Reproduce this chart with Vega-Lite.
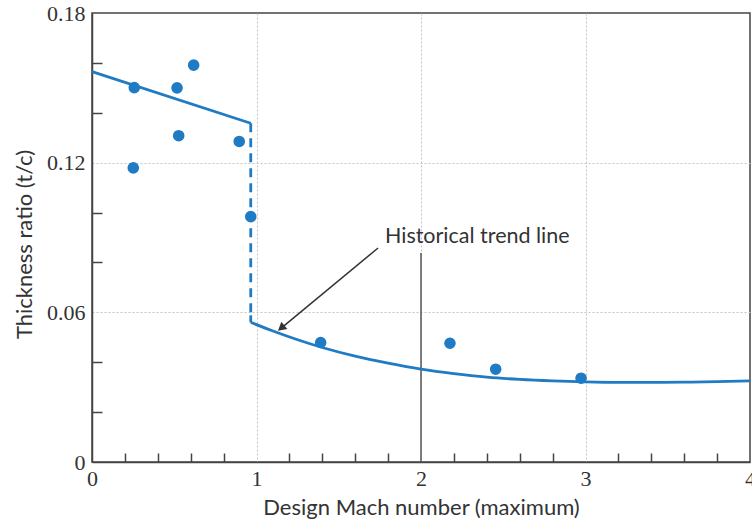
{
  "$schema": "https://vega.github.io/schema/vega-lite/v6.json",
  "width": 658,
  "height": 449,
  "autosize": {"type": "none"},
  "padding": {"left": 92, "top": 13, "right": 2, "bottom": 63},
  "background": "white",
  "config": {
    "view": {"stroke": "#444", "strokeWidth": 1.5},
    "axis": {
      "domainColor": "#444", "domainWidth": 1.5,
      "tickColor": "#444", "tickWidth": 1.5,
      "labelFont": "Liberation Serif", "labelFontSize": 22, "labelColor": "#333",
      "titleFont": "Lato", "titleFontSize": 22, "titleFontWeight": "normal", "titleColor": "#333",
      "gridColor": "#c4c4c4", "gridWidth": 1, "gridDash": [2, 2]
    }
  },
  "datasets": {
    "pts": [
      {"x": 0.257, "y": 0.1501}, {"x": 0.251, "y": 0.1179}, {"x": 0.517, "y": 0.1500},
      {"x": 0.527, "y": 0.1308}, {"x": 0.618, "y": 0.1591}, {"x": 0.895, "y": 0.1285},
      {"x": 0.965, "y": 0.0984}, {"x": 1.390, "y": 0.0479}, {"x": 2.176, "y": 0.0476},
      {"x": 2.454, "y": 0.0372}, {"x": 2.973, "y": 0.0336}
    ],
    "trend1": [{"x": 0, "y": 0.1565}, {"x": 0.965, "y": 0.1358}],
    "dash": [{"x": 0.965, "y": 0.1358}, {"x": 0.965, "y": 0.0585}],
    "stub": [{"x": 0.965, "y": 0.0588}, {"x": 0.965, "y": 0.0560}],
    "trend2": [
      {"x": 0.965, "y": 0.0560}, {"x": 1.1, "y": 0.0525}, {"x": 1.25, "y": 0.0490},
      {"x": 1.4, "y": 0.0459}, {"x": 1.6, "y": 0.0424}, {"x": 1.8, "y": 0.0396},
      {"x": 2.0, "y": 0.0372}, {"x": 2.2, "y": 0.0354}, {"x": 2.4, "y": 0.0340},
      {"x": 2.6, "y": 0.0331}, {"x": 2.8, "y": 0.0325}, {"x": 3.0, "y": 0.0321},
      {"x": 3.2, "y": 0.0319}, {"x": 3.4, "y": 0.0319}, {"x": 3.6, "y": 0.0320},
      {"x": 3.8, "y": 0.0322}, {"x": 4.0, "y": 0.0325}
    ],
    "darkline": [{"x": 2, "y": 0, "y2": 0.0838}],
    "arrow": [{"x": 1.739, "y": 0.0858, "x2": 1.165, "y2": 0.0545}],
    "head": [{"x": 1.150, "y": 0.0537}],
    "label": [{"x": 1.781, "y": 0.0878, "t": "Historical trend line"}]
  },
  "encoding": {
    "x": {
      "field": "x", "type": "quantitative",
      "scale": {"domain": [0, 4], "nice": false, "zero": false},
      "axis": {
        "title": "Design Mach number (maximum)",
        "values": [0, 0.2, 0.4, 0.6, 0.8, 1, 1.2, 1.4, 1.6, 1.8, 2, 2.2, 2.4, 2.6, 2.8, 3, 3.2, 3.4, 3.6, 3.8, 4],
        "labelExpr": "datum.value % 1 == 0 ? format(datum.value, 'd') : ''",
        "labelOverlap": false, "labelFlush": false,
        "tickSize": -9, "labelPadding": 15,
        "tickOpacity": {"condition": {"test": "datum.value % 1 != 0", "value": 1}, "value": 0},
        "grid": true,
        "gridOpacity": {"condition": {"test": "datum.value == 1 || datum.value == 2 || datum.value == 3", "value": 1}, "value": 0},
        "titleY": 52, "titleBaseline": "alphabetic"
      }
    },
    "y": {
      "field": "y", "type": "quantitative",
      "scale": {"domain": [0, 0.18], "nice": false, "zero": false},
      "axis": {
        "title": "Thickness ratio (t/c)",
        "values": [0, 0.02, 0.04, 0.06, 0.08, 0.1, 0.12, 0.14, 0.16, 0.18],
        "labelExpr": "abs(datum.value) < 1e-9 ? '0' : ((abs(datum.value - 0.06) < 1e-9 || abs(datum.value - 0.12) < 1e-9 || abs(datum.value - 0.18) < 1e-9) ? format(datum.value, '.2f') : '')",
        "labelOverlap": false, "labelFlush": false,
        "tickSize": -10, "labelPadding": 17,
        "tickOpacity": {"condition": {"test": "abs(datum.value - 0.06) < 1e-9 || abs(datum.value - 0.12) < 1e-9 || abs(datum.value - 0.18) < 1e-9 || datum.value == 0", "value": 0}, "value": 1},
        "grid": true,
        "gridOpacity": {"condition": {"test": "abs(datum.value - 0.06) < 1e-9 || abs(datum.value - 0.12) < 1e-9", "value": 1}, "value": 0},
        "titleX": -61, "titleY": 231, "titleBaseline": "alphabetic", "titleAngle": -90
      }
    }
  },
  "layer": [
    {
      "data": {"name": "darkline"},
      "mark": {"type": "rule", "color": "#555", "strokeWidth": 1.5},
      "encoding": {"y2": {"field": "y2"}}
    },
    {
      "data": {"name": "trend1"},
      "mark": {"type": "line", "color": "#1f7bc4", "strokeWidth": 2.8},
      "encoding": {}
    },
    {
      "data": {"name": "dash"},
      "mark": {"type": "line", "color": "#1f7bc4", "strokeWidth": 2.8, "strokeDash": [9, 6]},
      "encoding": {}
    },
    {
      "data": {"name": "stub"},
      "mark": {"type": "line", "color": "#1f7bc4", "strokeWidth": 2.8},
      "encoding": {}
    },
    {
      "data": {"name": "trend2"},
      "mark": {"type": "line", "color": "#1f7bc4", "strokeWidth": 2.8, "interpolate": "monotone"},
      "encoding": {}
    },
    {
      "data": {"name": "pts"},
      "mark": {"type": "circle", "color": "#1f7bc4", "opacity": 1, "size": 135},
      "encoding": {}
    },
    {
      "data": {"name": "arrow"},
      "mark": {"type": "rule", "color": "#333", "strokeWidth": 1.5},
      "encoding": {"x2": {"field": "x2"}, "y2": {"field": "y2"}}
    },
    {
      "data": {"name": "head"},
      "mark": {"type": "point", "shape": "triangle-up", "filled": true, "color": "#333", "opacity": 1, "size": 90, "angle": 230.6},
      "encoding": {}
    },
    {
      "data": {"name": "label"},
      "mark": {"type": "text", "font": "Lato", "fontSize": 21.5, "color": "#333", "align": "left", "baseline": "alphabetic"},
      "encoding": {"text": {"field": "t"}}
    }
  ]
}
